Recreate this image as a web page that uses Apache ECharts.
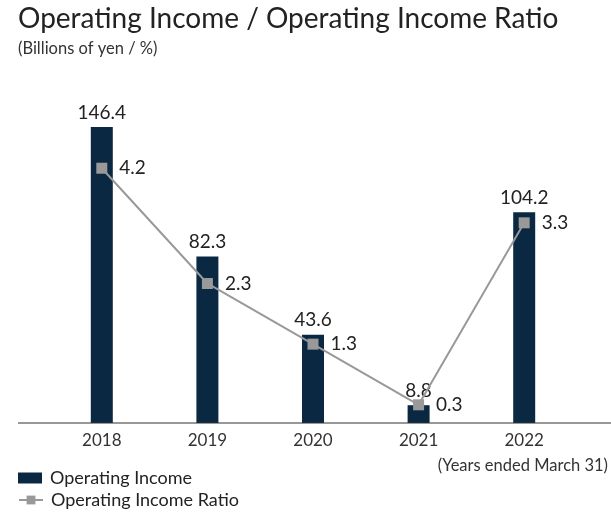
<!DOCTYPE html>
<html><head><meta charset="utf-8">
<script src="https://cdn.jsdelivr.net/npm/echarts@6/dist/echarts.min.js"></script>
<style>html,body{margin:0;padding:0;background:#fff}#c{width:611px;height:514px}</style>
</head><body><div id="c"></div>
<script>
const categories = ['2018', '2019', '2020', '2021', '2022'];
const operatingIncome = [146.4, 82.3, 43.6, 8.8, 104.2];
const operatingIncomeRatio = [4.2, 2.3, 1.3, 0.3, 3.3];

const FONT = 'Lato';
const chart = echarts.init(document.getElementById('c'), null, {renderer: 'canvas'});
chart.setOption({
  animation: false,
  backgroundColor: '#fff',
  textStyle: {fontFamily: FONT},
  title: {
    text: 'Operating Income / Operating Income Ratio',
    subtext: '(Billions of yen / %)',
    left: 13, top: 0,
    itemGap: 7,
    textStyle: {fontFamily: FONT, fontSize: 28, fontWeight: 'normal', color: '#222'},
    subtextStyle: {fontFamily: FONT, fontSize: 16.5, color: '#333'}
  },
  legend: [
    {
      left: 13, top: 464, itemWidth: 24, itemHeight: 11, itemGap: 6,
      textStyle: {fontFamily: FONT, fontSize: 18, color: '#222', padding: [0, 0, 0, 3]},
      data: [{name: 'Operating Income', icon: 'rect'}]
    },
    {
      left: 13, top: 486, itemWidth: 24, itemHeight: 11, itemGap: 6,
      textStyle: {fontFamily: FONT, fontSize: 18, color: '#222', padding: [0, 0, 0, 3]},
      data: [{name: 'Operating Income Ratio'}]
    }
  ],
  grid: {left: 49, right: 34, top: 119.7, bottom: 91, containLabel: false},
  xAxis: {
    type: 'category', data: categories,
    axisLine: {show: false}, axisTick: {show: false},
    axisLabel: {fontFamily: FONT, fontSize: 17, color: '#333', margin: 9}
  },
  yAxis: [
    {type: 'value', min: 0, max: 150, show: false, splitLine: {show: false}},
    {type: 'value', min: 0, max: 5, show: false, splitLine: {show: false}}
  ],
  graphic: [
    {type: 'line', shape: {x1: 18, y1: 423, x2: 611, y2: 423}, style: {stroke: '#333', lineWidth: 1.2}, z: 10},
    {type: 'text', right: 3, top: 457, style: {text: '(Years ended March 31)', font: '16.5px Lato', fill: '#333'}}
  ],
  series: [
    {
      name: 'Operating Income', type: 'bar', data: operatingIncome, barWidth: 22,
      itemStyle: {color: '#0b2842'},
      label: {show: true, position: 'top', distance: 5, fontFamily: FONT, fontSize: 19, color: '#222', formatter: p => p.value.toFixed(1)}
    },
    {
      name: 'Operating Income Ratio', type: 'line', yAxisIndex: 1, data: operatingIncomeRatio,
      symbol: 'rect', symbolSize: 11,
      lineStyle: {color: '#999', width: 2}, itemStyle: {color: '#999'},
      label: {show: true, position: 'right', distance: 12, fontFamily: FONT, fontSize: 19, color: '#222', formatter: p => p.value.toFixed(1)},
      z: 5
    }
  ]
});
</script></body></html>
